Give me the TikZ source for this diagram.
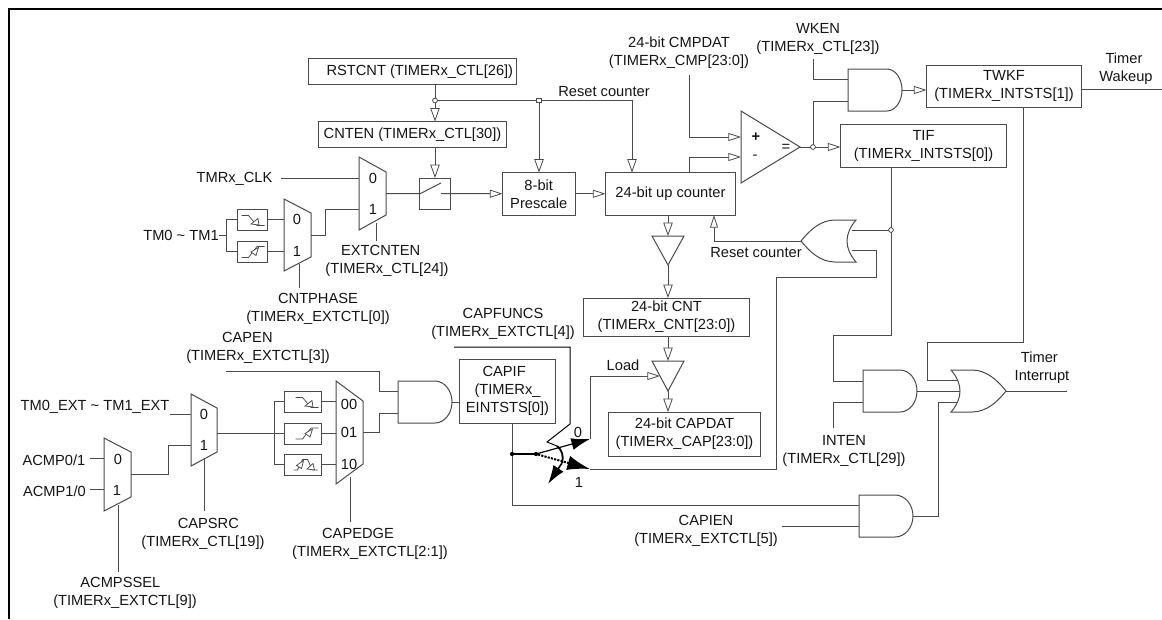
\documentclass[tikz,border=0pt]{standalone}
\usepackage{fontspec}
\setmainfont{Liberation Sans}
\usetikzlibrary{arrows.meta,calc}
\definecolor{wirec}{HTML}{4A4A4A}
\definecolor{txtc}{HTML}{151515}
\tikzset{
  wire/.style={draw=wirec,line width=0.75pt,line join=miter},
  ha/.style={wire,-{Triangle[open,fill=white,length=10pt,width=7pt,line width=0.6pt]}},
  hb/.style={wire,-{Triangle[open,fill=white,length=9.5pt,width=6pt,line width=0.6pt]}},
  bx/.style={draw=wirec,line width=0.75pt,inner sep=0pt,outer sep=0pt,align=center,text=txtc},
  gatebox/.style={inner sep=0pt,outer sep=0pt},
  gate/.style={draw=wirec,line width=0.75pt,fill=white,line join=miter},
  lbl/.style={inner sep=0pt,outer sep=0pt,align=center,text=txtc},
  pin/.style={inner sep=0pt,outer sep=0pt,text=txtc},
  jopen/.style={circle,draw=wirec,fill=white,line width=0.6pt,minimum size=3.6pt,inner sep=0pt,outer sep=0pt},
  jsq/.style={rectangle,draw=wirec,fill=white,line width=0.6pt,minimum size=3.2pt,inner sep=0pt,outer sep=0pt},
  jdot/.style={circle,fill=black,minimum size=3.2pt,inner sep=0pt,outer sep=0pt},
  icon/.style={draw=wirec,line width=0.55pt},
  swl/.style={draw=black,line width=0.9pt},
}
\newcommand{\mybox}[6]{%
  \pgfmathsetmacro{\bw}{(#4-#2)*0.75}\pgfmathsetmacro{\bh}{(#5-#3)*0.75}%
  \node[bx,minimum width=\bw pt,minimum height=\bh pt] (#1) at ({(#2+#4)/2},{(#3+#5)/2}) {#6};}
\newcommand{\mymux}[6]{% name x ytop w drop h
  \pgfmathsetmacro{\bw}{#4*0.75}\pgfmathsetmacro{\bh}{#6*0.75}%
  \node[gatebox,minimum width=\bw pt,minimum height=\bh pt] (#1) at ({#2+#4/2},{#3+#6/2}) {};
  \draw[gate] (#2,#3) -- ({#2+#4},{#3+#5}) -- ({#2+#4},{#3+#6-#5}) -- (#2,{#3+#6}) -- cycle;}
\newcommand{\myand}[4]{% name x y flat
  \node[gatebox,minimum width=40.5pt,minimum height=31.5pt] (#1) at ({#2+27},{#3+21}) {};
  \draw[gate,shift={(#2,#3)}] (0,0) -- (#4,0) .. controls ({#4+0.55*(54-#4)},0) and (54,9.5) .. (54,21) .. controls (54,32.5) and ({#4+0.55*(54-#4)},42) .. (#4,42) -- (0,42) -- cycle;}
\newcommand{\orshape}{(0,0) -- (21,0) .. controls (36,0) and (47,11) .. (55,21) .. controls (47,31) and (36,42) .. (21,42) -- (0,42) .. controls (6,35) and (9,28) .. (9,21) .. controls (9,14) and (6,7) .. (0,0) -- cycle}
\newcommand{\myfall}[2]{\begin{scope}[shift={(#1.north west)},xshift=#2*0.75pt]
  \draw[icon] (4,6) -- (11,6) -- (19.5,16) -- (27,16);
  \draw[icon,fill=white] (13.5,14.5) -- (20.5,9) -- (21.5,15.5) -- cycle;
\end{scope}}
\newcommand{\myrise}[2]{\begin{scope}[shift={(#1.north west)},xshift=#2*0.75pt]
  \draw[icon] (4,16) -- (11,16) -- (19.5,5) -- (27,5);
  \draw[icon,fill=white] (13.5,10.5) -- (21,6) -- (18.5,14) -- cycle;
\end{scope}}
\begin{document}
\begin{tikzpicture}[x=0.75pt,y=-0.75pt,font=\fontsize{11}{13.5}\selectfont]
\useasboundingbox (0,0) rectangle (1162,619);
\fill[white] (0,0) rectangle (1162,619);
\draw[black,line width=2.2pt] (9,619) -- (9,9) -- (1162,9);

% boxes
\mybox{rstcnt}{308.5}{58.5}{516.5}{84}{\hspace*{11pt}RSTCNT (TIMERx\_CTL[26])}
\mybox{cnten}{318.5}{121.5}{506.5}{147.5}{CNTEN (TIMERx\_CTL[30])}
\mybox{sw}{419.5}{178}{450.5}{209}{}
\mybox{prescale}{502.5}{172.5}{575}{215}{8-bit\\Prescale}
\mybox{counter}{605.5}{172.5}{735.5}{215}{24-bit up counter}
\mybox{cntb}{583.5}{298}{749.5}{336}{24-bit CNT\\(TIMERx\_CNT[23:0])}
\mybox{capdat}{608.5}{412}{760.5}{456}{24-bit CAPDAT\\(TIMERx\_CAP[23:0])}
\mybox{capif}{459.5}{359.5}{555.5}{423}{CAPIF\hspace*{5pt}\\(TIMERx\_\\EINTSTS[0])}
\mybox{tif}{840.5}{124.5}{1006.5}{167}{TIF\\(TIMERx\_INTSTS[0])}
\mybox{twkf}{926.5}{65}{1081.5}{107.5}{TWKF\\(TIMERx\_INTSTS[1])}
\mybox{ea}{237.5}{209.5}{267.5}{230}{}
\mybox{eb}{237.5}{241.5}{267.5}{262}{}
\mybox{ec}{284.5}{391.5}{321.5}{412}{}
\mybox{ed}{284.5}{423}{321.5}{444}{}
\mybox{ee}{284.5}{454.5}{321.5}{475}{}
\myfall{ea}{0}
\myrise{eb}{0}
\myfall{ec}{7}
\myrise{ed}{7}
\begin{scope}[shift={(ee.north west)}]
  \draw[icon] (9,15.5) -- (13,15.5) -- (18,5) -- (23,5) -- (28,15.5) -- (33,15.5);
  \draw[icon,fill=white] (12,11) -- (19,6) -- (17,14) -- cycle;
  \draw[icon,fill=white] (22.5,14.5) -- (28.5,9) -- (30,15.5) -- cycle;
\end{scope}

% multiplexers
\mymux{m1}{359}{157}{27}{15}{73}
\mymux{m2}{284}{199}{27}{14}{72}
\mymux{m3}{191}{394}{26}{14}{72}
\mymux{m4}{104}{438}{27}{14}{73}
\mymux{m5}{336}{381}{27}{20}{103}
\node[pin] (p10) at (373,178) {0};
\node[pin] (p11) at (373,209) {1};
\node[pin] (p20) at (297,219.5) {0};
\node[pin] (p21) at (297,251) {1};
\node[pin] (p30) at (204,414) {0};
\node[pin] (p31) at (204,445) {1};
\node[pin] (p40) at (118,459) {0};
\node[pin] (p41) at (117,490) {1};
\node[pin] (p50) at (349,404) {00};
\node[pin] (p51) at (349,432) {01};
\node[pin] (p52) at (349,464) {10};

% gates
\myand{and1}{848}{69}{39}
\myand{and2}{398}{381}{37}
\myand{and3}{863}{370}{37}
\myand{and4}{859}{495}{36}
\node[gatebox,minimum width=41.25pt,minimum height=31.5pt] (or1) at (978.5,391) {};
\draw[gate,shift={(951,370)}] \orshape;
\node[gatebox,minimum width=41.25pt,minimum height=31.5pt] (or2) at (828.5,241) {};
\draw[gate,shift={(856,220)},xscale=-1] \orshape;

% comparator and buffers
\node[gatebox,minimum width=44.25pt,minimum height=54pt] (cmp) at (770.5,147) {};
\draw[gate] (741,111) -- (800,147) -- (741,183) -- cycle;
\node[gatebox,minimum width=24pt,minimum height=21.75pt] (b1) at (668,250.5) {};
\draw[gate] (652,236) -- (684,236) -- (668,265) -- cycle;
\node[gatebox,minimum width=24pt,minimum height=22.5pt] (b2) at (668,376) {};
\draw[gate] (652,361) -- (684,361) -- (668,391) -- cycle;
\node[pin] (cp) at (756,137) {\textbf{+}};
\node[pin] (cm) at (755,157) {-};
\node[pin] (ce) at (786,148) {=};

% junctions
\node[jopen] (j1) at (435,100.5) {};
\node[jsq] (j2) at (539,100.5) {};
\node[jopen] (j3) at (813,147) {};
\node[jopen] (j4) at (891,230) {};
\node[jdot] (j5) at (512,454) {};
\node[jdot] (j6) at (536,454) {};

% top wires
\draw[wire] (rstcnt.south -| j1) -- (j1);
\draw[ha] (j1) -- (cnten.north -| j1);
\draw[wire] (j1) -- (j2);
\draw[ha] (j2) -- (prescale.north -| j2);
\coordinate (rc) at (632,100.5);
\draw[ha] (j2) -- (rc) -- (counter.north -| rc);
\draw[ha] (cnten.south -| j1) -- (sw.north -| j1);
\draw[wire] (m1.east) -- (sw.west) -- ++(1,0) -- (441,183);
\coordinate (swo) at (441,193.5);
\draw[hb] (swo) -- (prescale.west);
\draw[hb] (prescale.east) -- (counter.west);

% clock inputs
\node[lbl] (tclk) at (234.5,179) {TMRx\_CLK};
\coordinate (tclke) at (281,178);
\draw[wire] (tclke) -- (m1.west |- tclke);
\coordinate (m1b) at (325,209);
\draw[wire] (m2.east) -- (m2.east -| m1b) -- (m1b) -- (m1.west |- m1b);
\coordinate (s1a) at (376,223);
\coordinate (s1b) at (376,241);
\draw[wire] (s1a) -- (s1b);
\node[lbl] (extl) at (387,261) {\hspace*{-9.5pt}EXTCNTEN\\(TIMERx\_CTL[24])};
\coordinate (s2a) at (299,264);
\coordinate (s2b) at (299,288);
\draw[wire] (s2a) -- (s2b);
\node[lbl] (phl) at (318,309) {CNTPHASE\\(TIMERx\_EXTCTL[0])};
\node[lbl] (tm) at (181,235) {TM0 \textasciitilde\ TM1};
\coordinate (tmb) at (226,235);
\draw[wire] (tm.east) -- (tmb);
\draw[wire] (ea.west) -- (ea.west -| tmb) -- (eb.west -| tmb) -- (eb.west);
\draw[wire] (ea.east) -- (m2.west |- ea.east);
\draw[wire] (eb.east) -- (m2.west |- eb.east);

% capture inputs
\node[lbl] (tmext) at (95,407) {TM0\_EXT \textasciitilde\ TM1\_EXT};
\coordinate (tmea) at (170,414);
\draw[wire] (tmea) -- (m3.west |- tmea);
\coordinate (m3b) at (168,445);
\draw[wire] (m4.east) -- (m4.east -| m3b) -- (m3b) -- (m3.west |- m3b);
\node[lbl] (ac0) at (54,460) {ACMP0/1};
\node[lbl] (ac1) at (54.5,491) {ACMP1/0};
\coordinate (ia) at (90,458.5);
\coordinate (ib) at (90,489);
\draw[wire] (ia) -- (m4.west |- ia);
\draw[wire] (ib) -- (m4.west |- ib);
\coordinate (s4a) at (118,505);
\coordinate (s4b) at (118,572);
\draw[wire] (s4a) -- (s4b);
\node[lbl] (acl) at (125,592.5) {\hspace*{-7pt}ACMPSSEL\\(TIMERx\_EXTCTL[9])};
\coordinate (s3a) at (204,458);
\coordinate (s3b) at (204,511);
\draw[wire] (s3a) -- (s3b);
\node[lbl] (srcl) at (203,533.5) {\hspace*{8pt}CAPSRC\\(TIMERx\_CTL[19])};
\coordinate (m3n) at (274,433.5);
\draw[wire] (m3.east |- m3n) -- (ed.west);
\draw[wire] (ec.west) -- (ec.west -| m3n) -- (ee.west -| m3n) -- (ee.west);
\draw[wire] (ec.east) -- (m5.west |- ec.east);
\draw[wire] (ed.east) -- (m5.west |- ed.east);
\draw[wire] (ee.east) -- (m5.west |- ee.east);
\coordinate (s5a) at (350,477);
\coordinate (s5b) at (350,522);
\draw[wire] (s5a) -- (s5b);
\node[lbl] (edgl) at (370,543.5) {\hspace*{-18pt}CAPEDGE\\(TIMERx\_EXTCTL[2:1])};
\node[lbl] (capenl) at (258,348) {\hspace*{-16pt}CAPEN\\(TIMERx\_EXTCTL[3])};
\coordinate (cea) at (226,371);
\coordinate (ceb) at (379,371);
\draw[wire] (cea) -- (ceb) -- (ceb |- 0,391) -- (and2.west |- 0,391);
\draw[wire] (m5.east |- 0,432) -- (ceb |- 0,432) -- (ceb |- 0,413) -- (and2.west |- 0,413);
\draw[wire] (and2.east) -- (capif.west |- and2.east);

% capture switch
\node[lbl] (funcl) at (503,324) {CAPFUNCS\\(TIMERx\_EXTCTL[4])};
\coordinate (fa) at (454,347);
\coordinate (fb) at (570,347);
\coordinate (fc) at (570,424);
\coordinate (fd) at (547,442);
\coordinate (fe) at (557,446);
\draw[wire,draw=black] (fa) -- (fb) -- (fc) -- (fd) -- (fe);
\draw[swl,line width=1.4pt] (fe) .. controls (562,450) and (564,456) .. (562,463);
\coordinate (ff) at (562,463);
\coordinate (fg) at (548,484);
\draw[-{Latex[length=14pt,width=9pt]},black,line width=1.2pt] (ff) -- (fg);
\draw[swl] (j5) -- (j6);
\coordinate (s0) at (590,439);
\coordinate (s1) at (590,469);
\draw[-{Latex[length=14pt,width=9pt]},black,line width=0.9pt] (j6) -- (s0);
\draw[black,line width=1.5pt,dash pattern=on 1.6pt off 0.9pt,-{Latex[length=17pt,width=11pt,fill=black]}] (j6) -- (s1);
\node[pin] (sl0) at (578,432) {0};
\node[pin] (sl1) at (579,482) {1};
\draw[wire] (capif.south -| j5) -- (j5);
\node[lbl] (loadl) at (623,365) {Load};
\coordinate (ld) at (590,376);
\draw[hb] (s0) -- (ld) -- (660,376);

% counter output chain
\draw[ha] (counter.south -| b1) -- (b1.north |- 0,236);
\draw[ha] (668,265) -- (cntb.north -| 668,0);
\draw[ha] (cntb.south -| b2) -- (b2.north |- 0,361);
\draw[ha] (668,391) -- (capdat.north -| 668,0);

% compare
\node[lbl] (cmpl) at (679,53) {24-bit CMPDAT\\(TIMERx\_CMP[23:0])};
\coordinate (cm1) at (689,75);
\coordinate (cm2) at (689,137);
\draw[hb] (cm1) -- (cm2) -- (cmp.west |- cm2);
\coordinate (cm3) at (689,157);
\draw[hb] (counter.north -| cm3) -- (cm3) -- (cmp.west |- cm3);
\node[lbl] (rcl) at (604,92) {Reset counter};
\node[lbl] (rcm) at (756,253) {Reset counter};
\draw[wire] (800,147) -- (j3);
\draw[hb] (j3) -- (tif.west |- j3);
\draw[wire] (j3) -- (j3 |- 0,101) -- (and1.west |- 0,101);
\node[lbl] (wkl) at (818,39) {WKEN\\(TIMERx\_CTL[23])};
\coordinate (wk) at (813,59);
\draw[wire] (wk) -- (wk |- 0,79) -- (and1.west |- 0,79);
\draw[hb] (and1.east) -- (twkf.west |- and1.east);
\coordinate (to) at (1162,89);
\draw[wire] (twkf.east |- to) -- (to);
\node[lbl] (tw) at (1126,68.5) {\hspace*{-3pt}Timer\\Wakeup};

% reset loop
\draw[wire] (tif.south -| j4) -- (j4);
\draw[wire] (852,230) -- (j4);
\coordinate (rl) at (801,241);
\draw[hb] (rl) -- (714,241) -- (counter.south -| 714,0);
\coordinate (lp) at (776,277);
\draw[wire] (s1) -- (s1 -| lp) -- (lp) -- (876,277) -- (876,250) -- (852,250);

% interrupt logic
\draw[wire] (j4) -- (891,335) -- (833,335) -- (833,381) -- (and3.west |- 0,381);
\coordinate (ien) at (833,428);
\draw[wire] (ien) -- (ien |- 0,402) -- (and3.west |- 0,402);
\node[lbl] (ienl) at (844,451) {INTEN\\(TIMERx\_CTL[29])};
\draw[wire] (and3.east) -- (960,391);
\draw[wire] (twkf.south -| 1023,0) -- (1023,342) -- (927,342) -- (927,380) -- (957,380);
\draw[wire] (and4.east) -- (938,516) -- (938,402) -- (957,402);
\coordinate (cap) at (512,505);
\draw[wire] (j5) -- (cap) -- (and4.west |- cap);
\coordinate (capie) at (782,526);
\draw[wire] (capie) -- (and4.west |- capie);
\node[lbl] (capiel) at (706,531) {CAPIEN\\(TIMERx\_EXTCTL[5])};
\coordinate (ti) at (1067,391);
\draw[wire] (1006,391) -- (ti);
\node[lbl] (til) at (1042,368) {\hspace*{-4pt}Timer\\Interrupt};
\end{tikzpicture}
\end{document}
